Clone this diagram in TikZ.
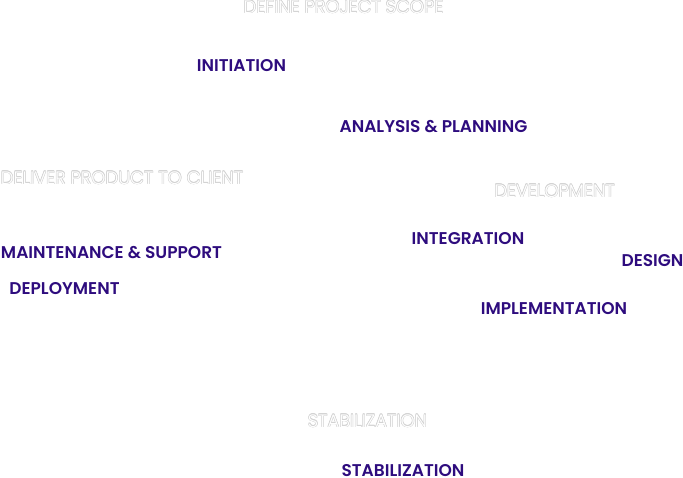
\documentclass[tikz,border=0pt]{standalone}
\usepackage{fontspec}
\setmainfont{Poppins}[BoldFont={Poppins SemiBold}]
\newfontfamily\lightfont{Poppins Light}
\definecolor{phase}{HTML}{2E0C7E}
\definecolor{edge}{HTML}{D2D2D2}
\tikzset{
  phaselabel/.style={text=phase, font=\fontsize{17}{19}\selectfont\bfseries, inner sep=0pt},
  ghostlabel/.style={font=\fontsize{18}{20}\selectfont\lightfont, inner sep=0pt},
}
\newcommand{\ghost}[3]{%
  \foreach \dx/\dy in {0.5/0,-0.5/0,0/0.5,0/-0.5,0.35/0.35,-0.35/-0.35,0.35/-0.35,-0.35/0.35}{
    \node[ghostlabel, text=edge] at ([shift={(\dx,\dy)}]#2) {#3};
  }
  \node[ghostlabel, text=white] (#1) at (#2) {#3};
}
\begin{document}
\begin{tikzpicture}[x=1pt,y=-1pt]
\useasboundingbox[fill=white] (0,0) rectangle (683,478);
\ghost{scope}{343.5,7}{DEFINE PROJECT SCOPE}
\ghost{deliver}{122,178}{DELIVER PRODUCT TO CLIENT}
\ghost{devel}{554.5,191}{DEVELOPMENT}
\ghost{stabw}{367.5,421}{STABILIZATION}
\node[phaselabel] (init) at (241.5,66) {INITIATION};
\node[phaselabel] (anal) at (433.5,127) {ANALYSIS \& PLANNING};
\node[phaselabel] (integ) at (468,239) {INTEGRATION};
\node[phaselabel] (maint) at (111.5,253) {MAINTENANCE \& SUPPORT};
\node[phaselabel] (design) at (652.5,261) {DESIGN};
\node[phaselabel] (deploy) at (64.5,289) {DEPLOYMENT};
\node[phaselabel] (impl) at (554,309) {IMPLEMENTATION};
\node[phaselabel] (stab) at (403,471) {STABILIZATION};
\end{tikzpicture}
\end{document}
